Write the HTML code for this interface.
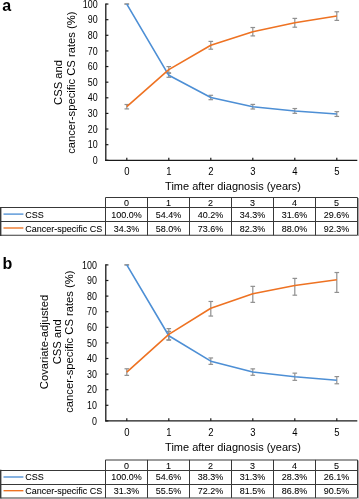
<!DOCTYPE html>
<html><head><meta charset="utf-8"><style>
html,body{margin:0;padding:0;background:#fff;overflow:hidden;width:359px;height:499px;}
svg{display:block;will-change:transform;filter:blur(0.25px);}
text{font-family:"Liberation Sans", sans-serif;fill:#000;}
.t{stroke:#000;stroke-width:0.06px;}
</style></head><body>
<svg width="359" height="499" viewBox="0 0 359 499">
<rect width="359" height="499" fill="#fff"/>
<text x="2.2" y="10.9" font-size="16" font-weight="bold">a</text>
<text transform="translate(61.8,82.4) rotate(-90) scale(1,1.05)" text-anchor="middle" font-size="11.25">CSS and</text>
<text transform="translate(74.8,82.7) rotate(-90) scale(1,1.05)" text-anchor="middle" font-size="11.25">cancer-specific CS rates (%)</text>
<text transform="translate(97.6,163.90) scale(1,1.15)" text-anchor="end" font-size="8.9">0</text>
<line x1="105.8" x2="108.39999999999999" y1="160.30" y2="160.30" stroke="#1a1a1a" stroke-width="1.2"/>
<text transform="translate(97.6,148.28) scale(1,1.15)" text-anchor="end" font-size="8.9">10</text>
<line x1="105.8" x2="108.39999999999999" y1="144.68" y2="144.68" stroke="#1a1a1a" stroke-width="1.2"/>
<text transform="translate(97.6,132.65) scale(1,1.15)" text-anchor="end" font-size="8.9">20</text>
<line x1="105.8" x2="108.39999999999999" y1="129.05" y2="129.05" stroke="#1a1a1a" stroke-width="1.2"/>
<text transform="translate(97.6,117.03) scale(1,1.15)" text-anchor="end" font-size="8.9">30</text>
<line x1="105.8" x2="108.39999999999999" y1="113.43" y2="113.43" stroke="#1a1a1a" stroke-width="1.2"/>
<text transform="translate(97.6,101.40) scale(1,1.15)" text-anchor="end" font-size="8.9">40</text>
<line x1="105.8" x2="108.39999999999999" y1="97.80" y2="97.80" stroke="#1a1a1a" stroke-width="1.2"/>
<text transform="translate(97.6,85.78) scale(1,1.15)" text-anchor="end" font-size="8.9">50</text>
<line x1="105.8" x2="108.39999999999999" y1="82.18" y2="82.18" stroke="#1a1a1a" stroke-width="1.2"/>
<text transform="translate(97.6,70.15) scale(1,1.15)" text-anchor="end" font-size="8.9">60</text>
<line x1="105.8" x2="108.39999999999999" y1="66.55" y2="66.55" stroke="#1a1a1a" stroke-width="1.2"/>
<text transform="translate(97.6,54.53) scale(1,1.15)" text-anchor="end" font-size="8.9">70</text>
<line x1="105.8" x2="108.39999999999999" y1="50.93" y2="50.93" stroke="#1a1a1a" stroke-width="1.2"/>
<text transform="translate(97.6,38.90) scale(1,1.15)" text-anchor="end" font-size="8.9">80</text>
<line x1="105.8" x2="108.39999999999999" y1="35.30" y2="35.30" stroke="#1a1a1a" stroke-width="1.2"/>
<text transform="translate(97.6,23.28) scale(1,1.15)" text-anchor="end" font-size="8.9">90</text>
<line x1="105.8" x2="108.39999999999999" y1="19.68" y2="19.68" stroke="#1a1a1a" stroke-width="1.2"/>
<text transform="translate(97.6,7.65) scale(1,1.15)" text-anchor="end" font-size="8.9">100</text>
<line x1="105.8" x2="108.39999999999999" y1="4.05" y2="4.05" stroke="#1a1a1a" stroke-width="1.2"/>
<line x1="105.8" x2="105.8" y1="3.45" y2="160.90" stroke="#1a1a1a" stroke-width="1.3"/>
<line x1="105.2" x2="357.3" y1="160.3" y2="160.3" stroke="#1a1a1a" stroke-width="1.2"/>
<line x1="126.8" x2="126.8" y1="160.3" y2="157.70000000000002" stroke="#1a1a1a" stroke-width="1.2"/>
<text transform="translate(126.8,174.7) scale(1,1.09)" text-anchor="middle" font-size="9.5">0</text>
<line x1="168.8" x2="168.8" y1="160.3" y2="157.70000000000002" stroke="#1a1a1a" stroke-width="1.2"/>
<text transform="translate(168.8,174.7) scale(1,1.09)" text-anchor="middle" font-size="9.5">1</text>
<line x1="210.8" x2="210.8" y1="160.3" y2="157.70000000000002" stroke="#1a1a1a" stroke-width="1.2"/>
<text transform="translate(210.8,174.7) scale(1,1.09)" text-anchor="middle" font-size="9.5">2</text>
<line x1="252.8" x2="252.8" y1="160.3" y2="157.70000000000002" stroke="#1a1a1a" stroke-width="1.2"/>
<text transform="translate(252.8,174.7) scale(1,1.09)" text-anchor="middle" font-size="9.5">3</text>
<line x1="294.8" x2="294.8" y1="160.3" y2="157.70000000000002" stroke="#1a1a1a" stroke-width="1.2"/>
<text transform="translate(294.8,174.7) scale(1,1.09)" text-anchor="middle" font-size="9.5">4</text>
<line x1="336.8" x2="336.8" y1="160.3" y2="157.70000000000002" stroke="#1a1a1a" stroke-width="1.2"/>
<text transform="translate(336.8,174.7) scale(1,1.09)" text-anchor="middle" font-size="9.5">5</text>
<text transform="translate(233,189.6) scale(1,1.06)" text-anchor="middle" font-size="11">Time after diagnosis (years)</text>
<line x1="126.8" x2="126.8" y1="104.51" y2="108.91" stroke="#909090" stroke-width="1.2"/>
<line x1="124.5" x2="129.1" y1="104.51" y2="104.51" stroke="#909090" stroke-width="1.2"/>
<line x1="124.5" x2="129.1" y1="108.91" y2="108.91" stroke="#909090" stroke-width="1.2"/>
<line x1="168.8" x2="168.8" y1="66.58" y2="72.78" stroke="#909090" stroke-width="1.2"/>
<line x1="166.5" x2="171.10000000000002" y1="66.58" y2="66.58" stroke="#909090" stroke-width="1.2"/>
<line x1="166.5" x2="171.10000000000002" y1="72.78" y2="72.78" stroke="#909090" stroke-width="1.2"/>
<line x1="210.8" x2="210.8" y1="41.40" y2="49.20" stroke="#909090" stroke-width="1.2"/>
<line x1="208.5" x2="213.10000000000002" y1="41.40" y2="41.40" stroke="#909090" stroke-width="1.2"/>
<line x1="208.5" x2="213.10000000000002" y1="49.20" y2="49.20" stroke="#909090" stroke-width="1.2"/>
<line x1="252.8" x2="252.8" y1="27.51" y2="35.91" stroke="#909090" stroke-width="1.2"/>
<line x1="250.5" x2="255.10000000000002" y1="27.51" y2="27.51" stroke="#909090" stroke-width="1.2"/>
<line x1="250.5" x2="255.10000000000002" y1="35.91" y2="35.91" stroke="#909090" stroke-width="1.2"/>
<line x1="294.8" x2="294.8" y1="18.40" y2="27.20" stroke="#909090" stroke-width="1.2"/>
<line x1="292.5" x2="297.1" y1="18.40" y2="18.40" stroke="#909090" stroke-width="1.2"/>
<line x1="292.5" x2="297.1" y1="27.20" y2="27.20" stroke="#909090" stroke-width="1.2"/>
<line x1="336.8" x2="336.8" y1="11.78" y2="20.38" stroke="#909090" stroke-width="1.2"/>
<line x1="334.5" x2="339.1" y1="11.78" y2="11.78" stroke="#909090" stroke-width="1.2"/>
<line x1="334.5" x2="339.1" y1="20.38" y2="20.38" stroke="#909090" stroke-width="1.2"/>
<line x1="126.8" x2="126.8" y1="4.05" y2="4.05" stroke="#909090" stroke-width="1.2"/>
<line x1="124.5" x2="129.1" y1="4.05" y2="4.05" stroke="#909090" stroke-width="1.2"/>
<line x1="124.5" x2="129.1" y1="4.05" y2="4.05" stroke="#909090" stroke-width="1.2"/>
<line x1="168.8" x2="168.8" y1="73.30" y2="77.30" stroke="#909090" stroke-width="1.2"/>
<line x1="166.5" x2="171.10000000000002" y1="73.30" y2="73.30" stroke="#909090" stroke-width="1.2"/>
<line x1="166.5" x2="171.10000000000002" y1="77.30" y2="77.30" stroke="#909090" stroke-width="1.2"/>
<line x1="210.8" x2="210.8" y1="95.29" y2="99.69" stroke="#909090" stroke-width="1.2"/>
<line x1="208.5" x2="213.10000000000002" y1="95.29" y2="95.29" stroke="#909090" stroke-width="1.2"/>
<line x1="208.5" x2="213.10000000000002" y1="99.69" y2="99.69" stroke="#909090" stroke-width="1.2"/>
<line x1="252.8" x2="252.8" y1="104.41" y2="109.01" stroke="#909090" stroke-width="1.2"/>
<line x1="250.5" x2="255.10000000000002" y1="104.41" y2="104.41" stroke="#909090" stroke-width="1.2"/>
<line x1="250.5" x2="255.10000000000002" y1="109.01" y2="109.01" stroke="#909090" stroke-width="1.2"/>
<line x1="294.8" x2="294.8" y1="108.53" y2="113.33" stroke="#909090" stroke-width="1.2"/>
<line x1="292.5" x2="297.1" y1="108.53" y2="108.53" stroke="#909090" stroke-width="1.2"/>
<line x1="292.5" x2="297.1" y1="113.33" y2="113.33" stroke="#909090" stroke-width="1.2"/>
<line x1="336.8" x2="336.8" y1="111.65" y2="116.45" stroke="#909090" stroke-width="1.2"/>
<line x1="334.5" x2="339.1" y1="111.65" y2="111.65" stroke="#909090" stroke-width="1.2"/>
<line x1="334.5" x2="339.1" y1="116.45" y2="116.45" stroke="#909090" stroke-width="1.2"/>
<polyline points="126.8,4.05 168.8,75.30 210.8,97.49 252.8,106.71 294.8,110.93 336.8,114.05" fill="none" stroke="#4D8FD5" stroke-width="1.6" stroke-linejoin="round"/>
<polyline points="126.8,106.71 168.8,69.68 210.8,45.30 252.8,31.71 294.8,22.80 336.8,16.08" fill="none" stroke="#EE7222" stroke-width="1.6" stroke-linejoin="round"/>
<line x1="105.5" x2="357.5" y1="197.5" y2="197.5" stroke="#383838" stroke-width="1.05"/>
<line x1="0.5" x2="357.5" y1="207.5" y2="207.5" stroke="#383838" stroke-width="1.05"/>
<line x1="0.5" x2="357.5" y1="221.5" y2="221.5" stroke="#383838" stroke-width="1.05"/>
<line x1="0.5" x2="357.5" y1="235.3" y2="235.3" stroke="#383838" stroke-width="1.05"/>
<line x1="0.7" x2="0.7" y1="206.9" y2="235.9" stroke="#383838" stroke-width="1.4"/>
<line x1="105.5" x2="105.5" y1="197.5" y2="235.3" stroke="#383838" stroke-width="1.05"/>
<line x1="147.5" x2="147.5" y1="197.5" y2="235.3" stroke="#383838" stroke-width="1.05"/>
<line x1="189.5" x2="189.5" y1="197.5" y2="235.3" stroke="#383838" stroke-width="1.05"/>
<line x1="231.5" x2="231.5" y1="197.5" y2="235.3" stroke="#383838" stroke-width="1.05"/>
<line x1="273.5" x2="273.5" y1="197.5" y2="235.3" stroke="#383838" stroke-width="1.05"/>
<line x1="315.5" x2="315.5" y1="197.5" y2="235.3" stroke="#383838" stroke-width="1.05"/>
<line x1="357.5" x2="357.5" y1="197.5" y2="235.3" stroke="#383838" stroke-width="1.05"/>
<rect x="358" y="198.1" width="1" height="37.80000000000001" fill="#a8a8a8"/>
<text transform="translate(126.5,205.5) scale(1,1.05)" text-anchor="middle" font-size="9" class="t">0</text>
<text transform="translate(168.5,205.5) scale(1,1.05)" text-anchor="middle" font-size="9" class="t">1</text>
<text transform="translate(210.5,205.5) scale(1,1.05)" text-anchor="middle" font-size="9" class="t">2</text>
<text transform="translate(252.5,205.5) scale(1,1.05)" text-anchor="middle" font-size="9" class="t">3</text>
<text transform="translate(294.5,205.5) scale(1,1.05)" text-anchor="middle" font-size="9" class="t">4</text>
<text transform="translate(336.5,205.5) scale(1,1.05)" text-anchor="middle" font-size="9" class="t">5</text>
<line x1="3.5" x2="23.4" y1="214.1" y2="214.1" stroke="#4D8FD5" stroke-width="1.35"/>
<text transform="translate(25.2,217.6) scale(1,1.05)" font-size="9" class="t">CSS</text>
<text transform="translate(126.5,217.6) scale(1,1.05)" text-anchor="middle" font-size="9" class="t">100.0%</text>
<text transform="translate(168.5,217.6) scale(1,1.05)" text-anchor="middle" font-size="9" class="t">54.4%</text>
<text transform="translate(210.5,217.6) scale(1,1.05)" text-anchor="middle" font-size="9" class="t">40.2%</text>
<text transform="translate(252.5,217.6) scale(1,1.05)" text-anchor="middle" font-size="9" class="t">34.3%</text>
<text transform="translate(294.5,217.6) scale(1,1.05)" text-anchor="middle" font-size="9" class="t">31.6%</text>
<text transform="translate(336.5,217.6) scale(1,1.05)" text-anchor="middle" font-size="9" class="t">29.6%</text>
<line x1="3.5" x2="23.4" y1="228.0" y2="228.0" stroke="#EE7222" stroke-width="1.35"/>
<text transform="translate(25.2,231.6) scale(1,1.05)" font-size="9" class="t">Cancer-specific CS</text>
<text transform="translate(126.5,231.6) scale(1,1.05)" text-anchor="middle" font-size="9" class="t">34.3%</text>
<text transform="translate(168.5,231.6) scale(1,1.05)" text-anchor="middle" font-size="9" class="t">58.0%</text>
<text transform="translate(210.5,231.6) scale(1,1.05)" text-anchor="middle" font-size="9" class="t">73.6%</text>
<text transform="translate(252.5,231.6) scale(1,1.05)" text-anchor="middle" font-size="9" class="t">82.3%</text>
<text transform="translate(294.5,231.6) scale(1,1.05)" text-anchor="middle" font-size="9" class="t">88.0%</text>
<text transform="translate(336.5,231.6) scale(1,1.05)" text-anchor="middle" font-size="9" class="t">92.3%</text>
<text x="2.4" y="268.6" font-size="16" font-weight="bold">b</text>
<text transform="translate(47.8,342) rotate(-90) scale(1,1.05)" text-anchor="middle" font-size="11.25">Covariate-adjusted</text>
<text transform="translate(60.6,341.8) rotate(-90) scale(1,1.05)" text-anchor="middle" font-size="11.25">CSS and</text>
<text transform="translate(73.2,341.6) rotate(-90) scale(1,1.05)" text-anchor="middle" font-size="11.25">cancer-specific CS rates (%)</text>
<text transform="translate(96.9,424.50) scale(1,1.15)" text-anchor="end" font-size="8.9">0</text>
<line x1="105.8" x2="108.39999999999999" y1="420.90" y2="420.90" stroke="#1a1a1a" stroke-width="1.2"/>
<text transform="translate(96.9,408.90) scale(1,1.15)" text-anchor="end" font-size="8.9">10</text>
<line x1="105.8" x2="108.39999999999999" y1="405.30" y2="405.30" stroke="#1a1a1a" stroke-width="1.2"/>
<text transform="translate(96.9,393.30) scale(1,1.15)" text-anchor="end" font-size="8.9">20</text>
<line x1="105.8" x2="108.39999999999999" y1="389.70" y2="389.70" stroke="#1a1a1a" stroke-width="1.2"/>
<text transform="translate(96.9,377.70) scale(1,1.15)" text-anchor="end" font-size="8.9">30</text>
<line x1="105.8" x2="108.39999999999999" y1="374.10" y2="374.10" stroke="#1a1a1a" stroke-width="1.2"/>
<text transform="translate(96.9,362.10) scale(1,1.15)" text-anchor="end" font-size="8.9">40</text>
<line x1="105.8" x2="108.39999999999999" y1="358.50" y2="358.50" stroke="#1a1a1a" stroke-width="1.2"/>
<text transform="translate(96.9,346.50) scale(1,1.15)" text-anchor="end" font-size="8.9">50</text>
<line x1="105.8" x2="108.39999999999999" y1="342.90" y2="342.90" stroke="#1a1a1a" stroke-width="1.2"/>
<text transform="translate(96.9,330.90) scale(1,1.15)" text-anchor="end" font-size="8.9">60</text>
<line x1="105.8" x2="108.39999999999999" y1="327.30" y2="327.30" stroke="#1a1a1a" stroke-width="1.2"/>
<text transform="translate(96.9,315.30) scale(1,1.15)" text-anchor="end" font-size="8.9">70</text>
<line x1="105.8" x2="108.39999999999999" y1="311.70" y2="311.70" stroke="#1a1a1a" stroke-width="1.2"/>
<text transform="translate(96.9,299.70) scale(1,1.15)" text-anchor="end" font-size="8.9">80</text>
<line x1="105.8" x2="108.39999999999999" y1="296.10" y2="296.10" stroke="#1a1a1a" stroke-width="1.2"/>
<text transform="translate(96.9,284.10) scale(1,1.15)" text-anchor="end" font-size="8.9">90</text>
<line x1="105.8" x2="108.39999999999999" y1="280.50" y2="280.50" stroke="#1a1a1a" stroke-width="1.2"/>
<text transform="translate(96.9,268.50) scale(1,1.15)" text-anchor="end" font-size="8.9">100</text>
<line x1="105.8" x2="108.39999999999999" y1="264.90" y2="264.90" stroke="#1a1a1a" stroke-width="1.2"/>
<line x1="105.8" x2="105.8" y1="264.30" y2="421.50" stroke="#1a1a1a" stroke-width="1.3"/>
<line x1="105.2" x2="357.3" y1="420.9" y2="420.9" stroke="#1a1a1a" stroke-width="1.2"/>
<line x1="126.8" x2="126.8" y1="420.9" y2="418.29999999999995" stroke="#1a1a1a" stroke-width="1.2"/>
<text transform="translate(126.8,435.6) scale(1,1.09)" text-anchor="middle" font-size="9.5">0</text>
<line x1="168.8" x2="168.8" y1="420.9" y2="418.29999999999995" stroke="#1a1a1a" stroke-width="1.2"/>
<text transform="translate(168.8,435.6) scale(1,1.09)" text-anchor="middle" font-size="9.5">1</text>
<line x1="210.8" x2="210.8" y1="420.9" y2="418.29999999999995" stroke="#1a1a1a" stroke-width="1.2"/>
<text transform="translate(210.8,435.6) scale(1,1.09)" text-anchor="middle" font-size="9.5">2</text>
<line x1="252.8" x2="252.8" y1="420.9" y2="418.29999999999995" stroke="#1a1a1a" stroke-width="1.2"/>
<text transform="translate(252.8,435.6) scale(1,1.09)" text-anchor="middle" font-size="9.5">3</text>
<line x1="294.8" x2="294.8" y1="420.9" y2="418.29999999999995" stroke="#1a1a1a" stroke-width="1.2"/>
<text transform="translate(294.8,435.6) scale(1,1.09)" text-anchor="middle" font-size="9.5">4</text>
<line x1="336.8" x2="336.8" y1="420.9" y2="418.29999999999995" stroke="#1a1a1a" stroke-width="1.2"/>
<text transform="translate(336.8,435.6) scale(1,1.09)" text-anchor="middle" font-size="9.5">5</text>
<text transform="translate(233,451.3) scale(1,1.06)" text-anchor="middle" font-size="11">Time after diagnosis (years)</text>
<line x1="126.8" x2="126.8" y1="368.77" y2="375.37" stroke="#909090" stroke-width="1.2"/>
<line x1="124.5" x2="129.1" y1="368.77" y2="368.77" stroke="#909090" stroke-width="1.2"/>
<line x1="124.5" x2="129.1" y1="375.37" y2="375.37" stroke="#909090" stroke-width="1.2"/>
<line x1="168.8" x2="168.8" y1="328.62" y2="340.02" stroke="#909090" stroke-width="1.2"/>
<line x1="166.5" x2="171.10000000000002" y1="328.62" y2="328.62" stroke="#909090" stroke-width="1.2"/>
<line x1="166.5" x2="171.10000000000002" y1="340.02" y2="340.02" stroke="#909090" stroke-width="1.2"/>
<line x1="210.8" x2="210.8" y1="301.47" y2="316.07" stroke="#909090" stroke-width="1.2"/>
<line x1="208.5" x2="213.10000000000002" y1="301.47" y2="301.47" stroke="#909090" stroke-width="1.2"/>
<line x1="208.5" x2="213.10000000000002" y1="316.07" y2="316.07" stroke="#909090" stroke-width="1.2"/>
<line x1="252.8" x2="252.8" y1="286.36" y2="302.36" stroke="#909090" stroke-width="1.2"/>
<line x1="250.5" x2="255.10000000000002" y1="286.36" y2="286.36" stroke="#909090" stroke-width="1.2"/>
<line x1="250.5" x2="255.10000000000002" y1="302.36" y2="302.36" stroke="#909090" stroke-width="1.2"/>
<line x1="294.8" x2="294.8" y1="278.39" y2="295.19" stroke="#909090" stroke-width="1.2"/>
<line x1="292.5" x2="297.1" y1="278.39" y2="278.39" stroke="#909090" stroke-width="1.2"/>
<line x1="292.5" x2="297.1" y1="295.19" y2="295.19" stroke="#909090" stroke-width="1.2"/>
<line x1="336.8" x2="336.8" y1="272.52" y2="292.42" stroke="#909090" stroke-width="1.2"/>
<line x1="334.5" x2="339.1" y1="272.52" y2="272.52" stroke="#909090" stroke-width="1.2"/>
<line x1="334.5" x2="339.1" y1="292.42" y2="292.42" stroke="#909090" stroke-width="1.2"/>
<line x1="126.8" x2="126.8" y1="264.90" y2="264.90" stroke="#909090" stroke-width="1.2"/>
<line x1="124.5" x2="129.1" y1="264.90" y2="264.90" stroke="#909090" stroke-width="1.2"/>
<line x1="124.5" x2="129.1" y1="264.90" y2="264.90" stroke="#909090" stroke-width="1.2"/>
<line x1="168.8" x2="168.8" y1="331.42" y2="340.02" stroke="#909090" stroke-width="1.2"/>
<line x1="166.5" x2="171.10000000000002" y1="331.42" y2="331.42" stroke="#909090" stroke-width="1.2"/>
<line x1="166.5" x2="171.10000000000002" y1="340.02" y2="340.02" stroke="#909090" stroke-width="1.2"/>
<line x1="210.8" x2="210.8" y1="357.95" y2="364.35" stroke="#909090" stroke-width="1.2"/>
<line x1="208.5" x2="213.10000000000002" y1="357.95" y2="357.95" stroke="#909090" stroke-width="1.2"/>
<line x1="208.5" x2="213.10000000000002" y1="364.35" y2="364.35" stroke="#909090" stroke-width="1.2"/>
<line x1="252.8" x2="252.8" y1="368.87" y2="375.27" stroke="#909090" stroke-width="1.2"/>
<line x1="250.5" x2="255.10000000000002" y1="368.87" y2="368.87" stroke="#909090" stroke-width="1.2"/>
<line x1="250.5" x2="255.10000000000002" y1="375.27" y2="375.27" stroke="#909090" stroke-width="1.2"/>
<line x1="294.8" x2="294.8" y1="373.15" y2="380.35" stroke="#909090" stroke-width="1.2"/>
<line x1="292.5" x2="297.1" y1="373.15" y2="373.15" stroke="#909090" stroke-width="1.2"/>
<line x1="292.5" x2="297.1" y1="380.35" y2="380.35" stroke="#909090" stroke-width="1.2"/>
<line x1="336.8" x2="336.8" y1="376.58" y2="383.78" stroke="#909090" stroke-width="1.2"/>
<line x1="334.5" x2="339.1" y1="376.58" y2="376.58" stroke="#909090" stroke-width="1.2"/>
<line x1="334.5" x2="339.1" y1="383.78" y2="383.78" stroke="#909090" stroke-width="1.2"/>
<polyline points="126.8,264.90 168.8,335.72 210.8,361.15 252.8,372.07 294.8,376.75 336.8,380.18" fill="none" stroke="#4D8FD5" stroke-width="1.6" stroke-linejoin="round"/>
<polyline points="126.8,372.07 168.8,334.32 210.8,308.27 252.8,293.76 294.8,285.49 336.8,279.72" fill="none" stroke="#EE7222" stroke-width="1.6" stroke-linejoin="round"/>
<line x1="105.5" x2="357.5" y1="459.9" y2="459.9" stroke="#383838" stroke-width="1.05"/>
<line x1="0.5" x2="357.5" y1="470.4" y2="470.4" stroke="#383838" stroke-width="1.05"/>
<line x1="0.5" x2="357.5" y1="484.4" y2="484.4" stroke="#383838" stroke-width="1.05"/>
<line x1="0.5" x2="357.5" y1="497.9" y2="497.9" stroke="#383838" stroke-width="1.05"/>
<line x1="0.7" x2="0.7" y1="469.79999999999995" y2="498.5" stroke="#383838" stroke-width="1.4"/>
<line x1="105.5" x2="105.5" y1="459.9" y2="497.9" stroke="#383838" stroke-width="1.05"/>
<line x1="147.5" x2="147.5" y1="459.9" y2="497.9" stroke="#383838" stroke-width="1.05"/>
<line x1="189.5" x2="189.5" y1="459.9" y2="497.9" stroke="#383838" stroke-width="1.05"/>
<line x1="231.5" x2="231.5" y1="459.9" y2="497.9" stroke="#383838" stroke-width="1.05"/>
<line x1="273.5" x2="273.5" y1="459.9" y2="497.9" stroke="#383838" stroke-width="1.05"/>
<line x1="315.5" x2="315.5" y1="459.9" y2="497.9" stroke="#383838" stroke-width="1.05"/>
<line x1="357.5" x2="357.5" y1="459.9" y2="497.9" stroke="#383838" stroke-width="1.05"/>
<rect x="358" y="460.5" width="1" height="38.0" fill="#a8a8a8"/>
<text transform="translate(126.5,468.6) scale(1,1.05)" text-anchor="middle" font-size="9" class="t">0</text>
<text transform="translate(168.5,468.6) scale(1,1.05)" text-anchor="middle" font-size="9" class="t">1</text>
<text transform="translate(210.5,468.6) scale(1,1.05)" text-anchor="middle" font-size="9" class="t">2</text>
<text transform="translate(252.5,468.6) scale(1,1.05)" text-anchor="middle" font-size="9" class="t">3</text>
<text transform="translate(294.5,468.6) scale(1,1.05)" text-anchor="middle" font-size="9" class="t">4</text>
<text transform="translate(336.5,468.6) scale(1,1.05)" text-anchor="middle" font-size="9" class="t">5</text>
<line x1="3.5" x2="23.4" y1="477.0" y2="477.0" stroke="#4D8FD5" stroke-width="1.35"/>
<text transform="translate(25.2,480.3) scale(1,1.05)" font-size="9" class="t">CSS</text>
<text transform="translate(126.5,480.3) scale(1,1.05)" text-anchor="middle" font-size="9" class="t">100.0%</text>
<text transform="translate(168.5,480.3) scale(1,1.05)" text-anchor="middle" font-size="9" class="t">54.6%</text>
<text transform="translate(210.5,480.3) scale(1,1.05)" text-anchor="middle" font-size="9" class="t">38.3%</text>
<text transform="translate(252.5,480.3) scale(1,1.05)" text-anchor="middle" font-size="9" class="t">31.3%</text>
<text transform="translate(294.5,480.3) scale(1,1.05)" text-anchor="middle" font-size="9" class="t">28.3%</text>
<text transform="translate(336.5,480.3) scale(1,1.05)" text-anchor="middle" font-size="9" class="t">26.1%</text>
<line x1="3.5" x2="23.4" y1="490.7" y2="490.7" stroke="#EE7222" stroke-width="1.35"/>
<text transform="translate(25.2,494.0) scale(1,1.05)" font-size="9" class="t">Cancer-specific CS</text>
<text transform="translate(126.5,494.0) scale(1,1.05)" text-anchor="middle" font-size="9" class="t">31.3%</text>
<text transform="translate(168.5,494.0) scale(1,1.05)" text-anchor="middle" font-size="9" class="t">55.5%</text>
<text transform="translate(210.5,494.0) scale(1,1.05)" text-anchor="middle" font-size="9" class="t">72.2%</text>
<text transform="translate(252.5,494.0) scale(1,1.05)" text-anchor="middle" font-size="9" class="t">81.5%</text>
<text transform="translate(294.5,494.0) scale(1,1.05)" text-anchor="middle" font-size="9" class="t">86.8%</text>
<text transform="translate(336.5,494.0) scale(1,1.05)" text-anchor="middle" font-size="9" class="t">90.5%</text>
</svg>
</body></html>
